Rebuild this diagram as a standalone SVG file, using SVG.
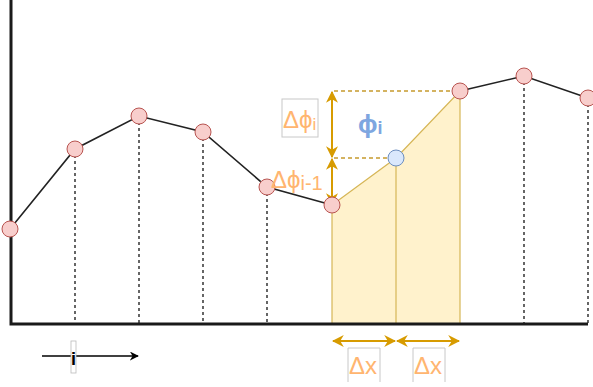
<svg xmlns="http://www.w3.org/2000/svg" width="593" height="387" viewBox="0 0 593 387">
  <defs>
    <marker id="ochre-head" viewBox="0 0 10 10" refX="9" refY="5" markerWidth="6" markerHeight="6" orient="auto-start-reverse">
      <path d="M0,0 L10,5 L0,10 L3,5 Z" fill="#d79b00"/>
    </marker>
    <marker id="black-head" viewBox="0 0 10 10" refX="9" refY="5" markerWidth="6" markerHeight="6" orient="auto">
      <path d="M0,0 L10,5 L0,10 L3,5 Z" fill="#000"/>
    </marker>
  </defs>
  <style>
    .grid { stroke: #000; stroke-width: 1.2; stroke-dasharray: 3 3; fill: none; }
    .curve { stroke: #222; stroke-width: 1.6; fill: none; }
    .pt { fill: #f8cecc; stroke: #b85450; stroke-width: 1; }
    .pt-mid { fill: #dae8fc; stroke: #6c8ebf; stroke-width: 1; }
    .guide { stroke: #c69a2e; stroke-width: 1.5; stroke-dasharray: 4 3; fill: none; }
    .dim { stroke: #d79b00; stroke-width: 2; fill: none; marker-start: url(#ochre-head); marker-end: url(#ochre-head); }
    .lbl { font-family: "Liberation Sans", Arial, sans-serif; fill: #ffb570; font-size: 24px; }
    .lblbox { fill: #fff; stroke: #c8c8c8; stroke-width: 1; }
  </style>

  <!-- area under the curve between x(i-1) and x(i+1) -->
  <g id="area">
    <polygon points="332,205 396,158 460,91 460,324 332,324" fill="#fff2cc" stroke="#d6b656" stroke-width="1.2"/>
    <line x1="396" y1="158" x2="396" y2="324" stroke="#d6b656" stroke-width="1.2"/>
  </g>

  <!-- sample columns -->
  <g id="grid-lines">
    <line class="grid" x1="75" y1="149" x2="75" y2="324"/>
    <line class="grid" x1="139" y1="116" x2="139" y2="324"/>
    <line class="grid" x1="203" y1="132" x2="203" y2="324"/>
    <line class="grid" x1="267" y1="187" x2="267" y2="324"/>
    <line class="grid" x1="524" y1="76" x2="524" y2="324"/>
    <line class="grid" x1="588" y1="98" x2="588" y2="324"/>
  </g>

  <!-- axes -->
  <g id="axes">
    <polyline points="11,0 11,324 588,324" fill="none" stroke="#1a1a1a" stroke-width="3"/>
  </g>

  <!-- connectors -->
  <g id="connectors">
    <polyline class="curve" points="10,229 75,149 139,116 203,132 267,187 332,205"/>
    <polyline class="curve" points="460,91 524,76 588,98"/>
    <line class="guide" x1="334" y1="91" x2="460" y2="91"/>
    <line class="guide" x1="334" y1="158" x2="396" y2="158"/>
    <line class="dim" x1="332" y1="92" x2="332" y2="157"/>
    <line class="dim" x1="332" y1="159" x2="332" y2="204"/>
    <line class="dim" x1="333" y1="341" x2="395" y2="341"/>
    <line class="dim" x1="397" y1="341" x2="459" y2="341"/>
    <line x1="42" y1="356" x2="138" y2="356" stroke="#000" stroke-width="1.5" marker-end="url(#black-head)"/>
  </g>

  <!-- sample points -->
  <g id="points">
    <circle class="pt" cx="10" cy="229" r="8"/>
    <circle class="pt" cx="75" cy="149" r="8"/>
    <circle class="pt" cx="139" cy="116" r="8"/>
    <circle class="pt" cx="203" cy="132" r="8"/>
    <circle class="pt" cx="267" cy="187" r="8"/>
    <circle class="pt" cx="332" cy="205" r="8"/>
    <circle class="pt" cx="460" cy="91" r="8"/>
    <circle class="pt" cx="524" cy="76" r="8"/>
    <circle class="pt" cx="588" cy="98" r="8"/>
    <circle class="pt-mid" cx="396" cy="158" r="8"/>
  </g>

  <!-- labels -->
  <g id="label-dphi-i">
    <rect class="lblbox" x="282" y="99" width="36" height="38"/>
    <text class="lbl" x="283" y="128">Δϕ<tspan font-size="17" dy="2">i</tspan></text>
  </g>
  <g id="label-phi-i">
    <text x="358" y="133" font-family="Liberation Sans, Arial, sans-serif" font-size="26" font-weight="bold" fill="#7ea6e0">ϕ<tspan font-size="18" dy="1">i</tspan></text>
  </g>
  <g id="label-dphi-i-1">
    <text class="lbl" x="271" y="188">Δϕ<tspan font-size="20" dy="2">i-1</tspan></text>
  </g>
  <g id="label-dx-left">
    <path d="M348,382 V348 H380 V382" class="lblbox" fill="none"/>
    <text class="lbl" x="349" y="374">Δx</text>
  </g>
  <g id="label-dx-right">
    <path d="M413,382 V348 H445 V382" class="lblbox" fill="none"/>
    <text class="lbl" x="414" y="374">Δx</text>
  </g>
  <g id="label-i">
    <rect x="71" y="341" width="5" height="32" fill="#fff" stroke="#bbb" stroke-width="0.8"/>
    <text x="73.5" y="365" text-anchor="middle" font-family="Liberation Sans, Arial, sans-serif" font-size="18" font-weight="bold" fill="#000">i</text>
  </g>
</svg>
